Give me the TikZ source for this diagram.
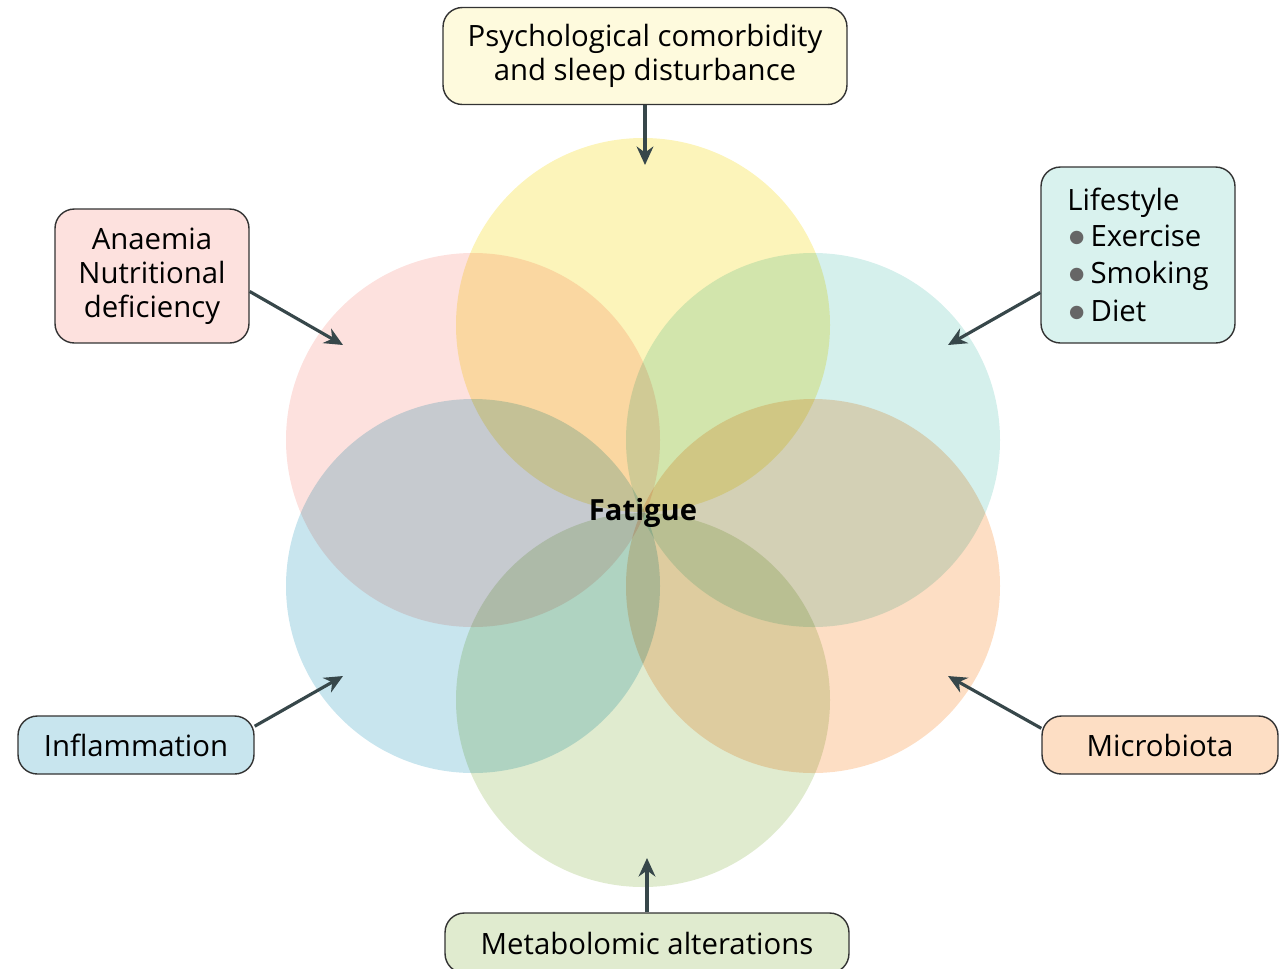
\documentclass[tikz,border=0pt]{standalone}
\usepackage{fontspec}
\setmainfont{Open Sans}
\newfontfamily\dotfont{DejaVu Sans}
\usepackage{tikz}
\usetikzlibrary{arrows.meta}

\definecolor{petalyellow}{HTML}{FCF4BA}
\definecolor{petalpink}{HTML}{FDE1DE}
\definecolor{petalteal}{HTML}{D5F0EC}
\definecolor{petalblue}{HTML}{C8E5EE}
\definecolor{petalorange}{HTML}{FDDEC4}
\definecolor{petalgreen}{HTML}{E0EBCF}
\definecolor{arrowgray}{HTML}{37474A}
\definecolor{edgegray}{HTML}{333333}

\newcommand{\listdot}{\hspace*{1pt}\raisebox{2.4pt}{\dotfont\fontsize{10}{0}\selectfont\color{edgegray!75}●}\hspace{3.5pt}}

\tikzset{
  causebox/.style={draw=edgegray, line width=0.8pt, rounded corners=11pt,
    align=center, font=\fontsize{16.7}{19.3}\selectfont, inner sep=0pt},
  causearrow/.style={draw=arrowgray, line width=1.8pt,
    -{Stealth[length=10.5pt,width=9.5pt]}},
}

\begin{document}
\begin{tikzpicture}[x=0.02cm, y=-0.02cm]
    \useasboundingbox (0,0) rectangle (1288,968);
    % petals
    \begin{scope}[blend group=multiply]
      \fill[petalyellow] (643,325) circle (187);
      \fill[petalpink]   (473,440) circle (187);
      \fill[petalteal]   (813,440) circle (187);
      \fill[petalblue]   (473,586) circle (187);
      \fill[petalorange] (813,586) circle (187);
      \fill[petalgreen]  (643,700) circle (187);
    \end{scope}
    \node[font=\fontsize{16.6}{18}\selectfont\bfseries] (fatigue) at (643,513) {Fatigue};

    % causes
    \node[causebox, fill=petalyellow!50, minimum width=8.08cm, minimum height=1.94cm]
      (psych) at (645,56) {Psychological comorbidity\\and sleep disturbance};
    \node[causebox, fill=petalpink, minimum width=3.88cm, minimum height=2.68cm]
      (anaemia) at (152,276) {Anaemia\\Nutritional\\deficiency};
    \node[causebox, fill=petalteal!90, minimum width=3.88cm, minimum height=3.52cm,
      align=left, font=\fontsize{16.7}{21.3}\selectfont]
      (lifestyle) at (1138,255) {Lifestyle\\[-1pt]
        \listdot Exercise\\
        \listdot Smoking\\
        \listdot Diet};
    \node[causebox, fill=petalblue, minimum width=4.72cm, minimum height=1.16cm]
      (inflam) at (136,745) {Inflammation};
    \node[causebox, fill=petalorange, minimum width=4.72cm, minimum height=1.16cm]
      (microb) at (1160,745) {Microbiota};
    \node[causebox, fill=petalgreen, minimum width=8.08cm, minimum height=1.20cm]
      (metab) at (647,943) {Metabolomic alterations};

    % arrow tips inside the petals
    \coordinate (tpsych) at (645,165);
    \coordinate (tanaemia) at (343,345);
    \coordinate (tlife) at (948,345);
    \coordinate (tinflam) at (343,676);
    \coordinate (tmicrob) at (948,676);
    \coordinate (tmetab) at (647,858);

    \draw[causearrow] (psych.south) -- (tpsych);
    \draw[causearrow] (anaemia.-9) -- (tanaemia);
    \draw[causearrow] (lifestyle.201) -- (tlife);
    \draw[causearrow] (inflam.9) -- (tinflam);
    \draw[causearrow] (microb.172) -- (tmicrob);
    \draw[causearrow] (metab.north) -- (tmetab);
\end{tikzpicture}
\end{document}
